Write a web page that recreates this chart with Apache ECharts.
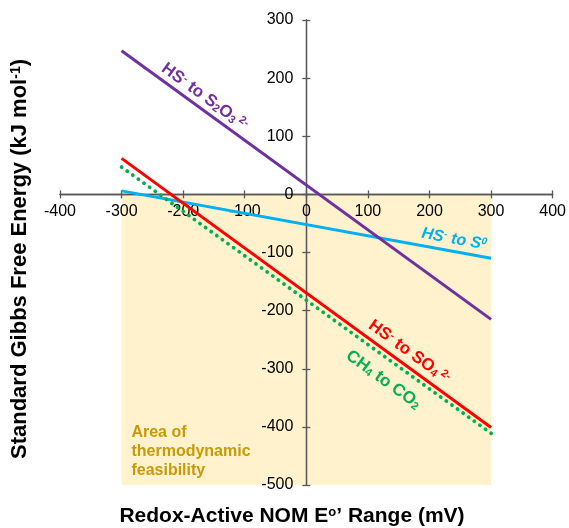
<!DOCTYPE html>
<html>
<head>
<meta charset="utf-8">
<script src="https://cdn.jsdelivr.net/npm/echarts@6/dist/echarts.min.js"></script>
<style>html,body{margin:0;padding:0;background:#fff;}#c{width:569px;height:528px;}</style>
</head>
<body>
<div id="c"></div>
<script>
// Data
const xEnds = [-300, 300];
const thiosulfate = [247, -215];   // HS- to S2O3 2-
const sulfur = [6, -110];          // HS- to S0
const sulfate = [62, -401];        // HS- to SO4 2-
const methane = [47, -411];        // CH4 to CO2
const feasibleX = [-300, 300];
const feasibleY = [-500, 0];
const xTicks = { min: -400, max: 400, interval: 100 };
const yTicks = { min: -500, max: 300, interval: 100 };

const FONT = '"Liberation Sans", Arial, sans-serif';
const AXC = '#595959';
const pts = arr => xEnds.map((x, i) => [x, arr[i]]);

const chart = echarts.init(document.getElementById('c'));

function xAx(pos, showLabel, offset) {
  return {
    type: 'value', position: pos, offset: offset || 0, min: xTicks.min, max: xTicks.max, interval: xTicks.interval, z: 2,
    axisLine: { show: true, onZero: false, lineStyle: { color: AXC, width: 1.3 } },
    axisTick: { show: true, length: 4, lineStyle: { color: AXC, width: 1.3 } },
    axisLabel: { show: showLabel, fontSize: 16, color: '#000', fontFamily: FONT, margin: 9 },
    splitLine: { show: false }
  };
}
function yAx(pos, showLabel, offset) {
  return {
    type: 'value', position: pos, offset: offset || 0, min: yTicks.min, max: yTicks.max, interval: yTicks.interval, z: 2,
    axisLine: { show: true, onZero: false, lineStyle: { color: AXC, width: 1.3 } },
    axisTick: { show: true, length: 4, lineStyle: { color: AXC, width: 1.3 } },
    axisLabel: { show: showLabel, fontSize: 16, color: '#000', fontFamily: FONT, margin: 13 },
    splitLine: { show: false }
  };
}

const lineSeries = (name, arr, color, extra) => Object.assign({
  name, type: 'line', data: pts(arr), symbol: 'none', z: 3, silent: true,
  lineStyle: { color, width: 3 }
}, extra || {});

chart.setOption({
  animation: false,
  grid: { left: 60, right: 15, top: 20, bottom: 43 },
  xAxis: [xAx('bottom', true), xAx('top', false)],
  yAxis: [yAx('left', true), yAx('right', false)],
  series: [
    {
      type: 'line', data: [], z: 1, silent: true,
      markArea: {
        silent: true,
        itemStyle: { color: '#FFF2CC' },
        data: [[{ coord: [feasibleX[0], feasibleY[1]] }, { coord: [feasibleX[1], feasibleY[0]] }]]
      }
    },
    lineSeries('HS- to S0', sulfur, '#00B0F0'),
    lineSeries('HS- to S2O3 2-', thiosulfate, '#7030A0'),
    lineSeries('CH4 to CO2', methane, '#00B050', { lineStyle: { color: '#00B050', width: 3.8, type: [0.1, 6.8], cap: 'round' } }),
    lineSeries('HS- to SO4 2-', sulfate, '#FF0000')
  ]
});

// Move the axes so they cross at the origin (offsets computed from the library's own scales)
const origin = chart.convertToPixel({ gridIndex: 0 }, [0, 0]);
const lowLeft = chart.convertToPixel({ gridIndex: 0 }, [xTicks.min, yTicks.min]);
const upRight = chart.convertToPixel({ gridIndex: 0 }, [xTicks.max, yTicks.max]);
chart.setOption({
  xAxis: [xAx('bottom', true, -(lowLeft[1] - origin[1])), xAx('top', false, -(origin[1] - upRight[1]))],
  yAxis: [yAx('left', true, -(origin[0] - lowLeft[0])), yAx('right', false, -(upRight[0] - origin[0]))]
});

function rich(color, size, italic) {
  const base = { fontFamily: FONT, fontWeight: 'bold', fill: color, fontStyle: italic ? 'italic' : 'normal' };
  return {
    m: Object.assign({ fontSize: size }, base),
    sup: Object.assign({ fontSize: Math.round(size * 0.62), verticalAlign: 'top' }, base),
    sub: Object.assign({ fontSize: Math.round(size * 0.62), verticalAlign: 'bottom' }, base)
  };
}
function label(text, color, size, coord, angleDeg, italic) {
  const p = chart.convertToPixel({ gridIndex: 0 }, coord);
  return {
    type: 'text', x: p[0], y: p[1], rotation: angleDeg * Math.PI / 180, z: 10, silent: true,
    style: { text, rich: rich(color, size, italic), align: 'center', verticalAlign: 'middle', fill: color,
             font: 'bold ' + size + 'px ' + FONT }
  };
}

const areaPos = chart.convertToPixel({ gridIndex: 0 }, [-284, -442]);

chart.setOption({
  graphic: [
    label('{m|HS}{sup|-}{m| to S}{sub|2}{m|O}{sub|3}{sup| 2-}', '#7030A0', 17, [-165, 168], -36),
    label('{m|HS}{sup|-}{m| to S}{sup|0}', '#00B0F0', 16, [240, -77], -10.3, true),
    label('{m|HS}{sup|-}{m| to SO}{sub|4}{sup| 2-}', '#FF0000', 17, [167, -271], -36),
    label('{m|CH}{sub|4}{m| to CO}{sub|2}', '#00B050', 17, [125, -319], -36),
    {
      type: 'text', x: areaPos[0], y: areaPos[1], z: 10, silent: true,
      style: { text: 'Area of\nthermodynamic\nfeasibility', fill: '#C99A06',
               font: 'bold 16px ' + FONT, lineHeight: 19, align: 'left', verticalAlign: 'middle' }
    },
    {
      type: 'text', x: 292, y: 516, z: 10, silent: true,
      style: { text: '{m|Redox-Active NOM E}{sup|o}{m|’ Range (mV)}', align: 'center', verticalAlign: 'middle',
               rich: rich('#000', 21), font: 'bold 21px ' + FONT, fill: '#000' }
    },
    {
      type: 'text', x: 20, y: 259, rotation: Math.PI / 2, z: 10, silent: true,
      style: { text: '{m|Standard Gibbs Free Energy (kJ mol}{sup|-1}{m|)}', align: 'center', verticalAlign: 'middle',
               rich: rich('#000', 22), font: 'bold 22px ' + FONT, fill: '#000' }
    }
  ]
});
</script>
</body>
</html>
